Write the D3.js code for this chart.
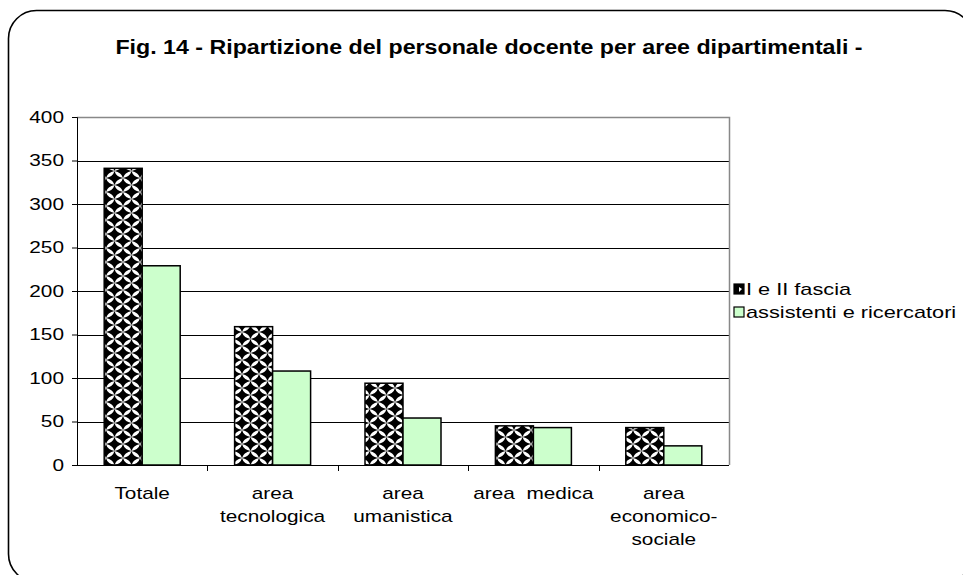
<!DOCTYPE html>
<html>
<head>
<meta charset="utf-8">
<script src="https://cdn.jsdelivr.net/npm/d3@7"></script>
<style>
  body { margin: 0; background: #fff; }
  text { font-family: "Liberation Sans", Arial, sans-serif; white-space: pre; }
</style>
</head>
<body>
<div id="canvas"></div>
<script>
// categories (x axis), each label split on lines
const categories = [
  ["Totale"],
  ["area", "tecnologica"],
  ["area", "umanistica"],
  ["area  medica"],
  ["area", "economico-", "sociale"]
];
const seriesNames = ["I e II fascia", "assistenti e ricercatori"];
const fascia = [341, 159, 94, 45, 43];
const assistenti = [229, 108, 54, 43, 22];
const yTicks = [0, 50, 100, 150, 200, 250, 300, 350, 400];

const width = 963, height = 575;
const plot = {left: 77, right: 729, top: 117, bottom: 465};
const stretch = 1.3; // the original text is drawn wide

const svg = d3.select('#canvas')
  .append('svg')
  .attr('width', width)
  .attr('height', height);

// checker pattern: black four-point stars touching at the tips
const defs = svg.append('defs');
const pat = defs.append('pattern')
  .attr('id', 'checker')
  .attr('patternUnits', 'userSpaceOnUse')
  .attr('width', 17).attr('height', 14)
  .attr('x', 106).attr('y', 465);
pat.append('rect').attr('width', 17).attr('height', 14).attr('fill', '#fff');
const star = (cx, cy) => {
  const a = 8.5, b = 7, c = 1.5, e = 1.3;
  return `M${cx - a},${cy} Q${cx - c},${cy - e} ${cx},${cy - b} Q${cx + c},${cy - e} ${cx + a},${cy}` +
         ` Q${cx + c},${cy + e} ${cx},${cy + b} Q${cx - c},${cy + e} ${cx - a},${cy} Z`;
};
[[0, 0], [17, 0], [0, 14], [17, 14], [8.5, 7]].forEach(([cx, cy]) => {
  pat.append('path').attr('d', star(cx, cy)).attr('fill', '#000');
});

// outer rounded frame (runs off the right and bottom)
svg.append('rect')
  .attr('x', 8.5).attr('y', 10.5)
  .attr('width', 964.5).attr('height', 571.5)
  .attr('rx', 28).attr('ry', 28)
  .attr('fill', 'none').attr('stroke', '#000').attr('stroke-width', 1.6);

svg.append('text')
  .attr('transform', 'translate(489,54) scale(1.16,1)')
  .attr('text-anchor', 'middle')
  .style('font-size', '20px').style('font-weight', 'bold')
  .text('Fig. 14 - Ripartizione del personale docente per aree dipartimentali -');

const x = d3.scaleBand()
  .domain(d3.range(categories.length))
  .range([plot.left, plot.right]);

const y = d3.scaleLinear()
  .domain([0, 400])
  .range([plot.bottom, plot.top]);

const barW = 38;

// grid lines
svg.append('g').selectAll('line')
  .data(yTicks.filter(d => d > 0 && d < 400))
  .enter().append('line')
    .attr('x1', plot.left).attr('x2', plot.right)
    .attr('y1', d => Math.round(y(d)) + 0.5).attr('y2', d => Math.round(y(d)) + 0.5)
    .attr('stroke', '#000');

// plot border top and right (grey)
svg.append('path')
  .attr('d', `M${plot.left},${plot.top + 0.5} H${plot.right + 0.5} V${plot.bottom}`)
  .attr('fill', 'none').attr('stroke', '#888').attr('stroke-width', 1.5);

// bars
const groups = svg.append('g').selectAll('g')
  .data(categories)
  .enter().append('g');

groups.append('rect')
  .attr('x', (d, i) => x(i) + x.bandwidth() / 2 - barW)
  .attr('y', (d, i) => y(fascia[i]))
  .attr('width', barW)
  .attr('height', (d, i) => y(0) - y(fascia[i]))
  .attr('fill', 'url(#checker)')
  .attr('stroke', '#000').attr('stroke-width', 1.5);

groups.append('rect')
  .attr('x', (d, i) => x(i) + x.bandwidth() / 2)
  .attr('y', (d, i) => y(assistenti[i]))
  .attr('width', barW)
  .attr('height', (d, i) => y(0) - y(assistenti[i]))
  .attr('fill', '#ccffcc')
  .attr('stroke', '#000').attr('stroke-width', 1.5);

// y axis
const yAxis = svg.append('g')
  .attr('transform', `translate(${plot.left},0)`)
  .call(d3.axisLeft(y).tickValues(yTicks).tickSize(5).tickPadding(8));
yAxis.select('.domain').attr('stroke', '#000');
yAxis.selectAll('.tick text')
  .attr('x', -13 / stretch)
  .attr('transform', `scale(${stretch},1)`)
  .style('font-size', '16px').style('font-family', '"Liberation Sans", Arial, sans-serif')
  .attr('fill', '#000');

// x axis: ticks at band boundaries
const xAxis = svg.append('g');
xAxis.append('line')
  .attr('x1', plot.left).attr('x2', plot.right)
  .attr('y1', plot.bottom + 0.5).attr('y2', plot.bottom + 0.5)
  .attr('stroke', '#000');
xAxis.selectAll('.tick')
  .data(d3.range(1, categories.length))
  .enter().append('line')
    .attr('x1', i => Math.round(x(i)) + 0.5).attr('x2', i => Math.round(x(i)) + 0.5)
    .attr('y1', plot.bottom).attr('y2', plot.bottom + 6)
    .attr('stroke', '#000');

const labels = xAxis.selectAll('text.cat')
  .data(categories)
  .enter().append('text')
    .attr('class', 'cat')
    .attr('transform', (d, i) => `translate(${x(i) + x.bandwidth() / 2},0) scale(${stretch},1)`)
    .attr('text-anchor', 'middle')
    .style('font-size', '16px');
labels.selectAll('tspan')
  .data(d => d)
  .enter().append('tspan')
    .attr('x', 0)
    .attr('y', (d, j) => 499 + j * 23)
    .text(d => d);

// legend
const legend = svg.append('g').attr('transform', 'translate(734,284)');
seriesNames.forEach((name, i) => {
  legend.append('rect')
    .attr('x', 0).attr('y', i * 23)
    .attr('width', 10).attr('height', 10)
    .attr('fill', i === 0 ? '#000' : '#ccffcc')
    .attr('stroke', '#000').attr('stroke-width', 1.2);
  if (i === 0) {
    legend.append('path')
      .attr('d', 'M5,3 L8,5 L5,8 Z')
      .attr('fill', '#fff');
  }
  legend.append('text')
    .attr('transform', `translate(12,${i * 23 + 11}) scale(1.36,1)`)
    .style('font-size', '16px')
    .text(name);
});
</script>
</body>
</html>
